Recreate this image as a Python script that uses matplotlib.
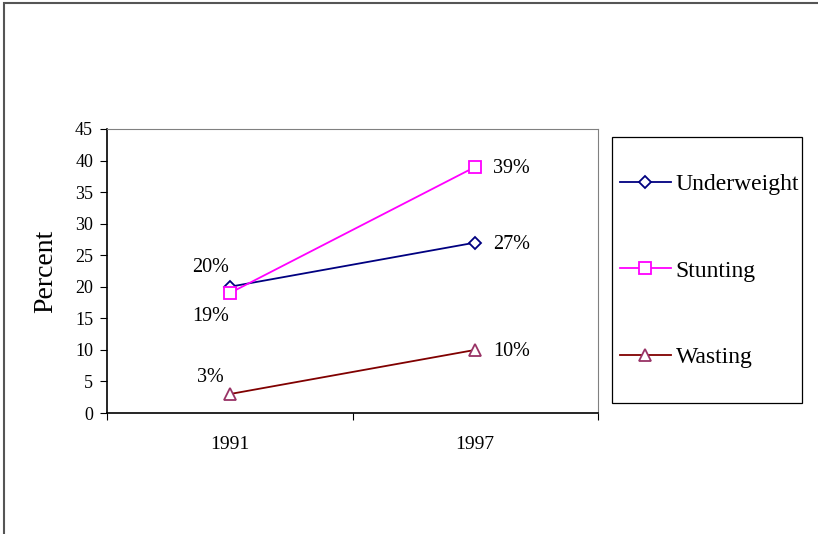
import matplotlib.pyplot as plt
from matplotlib.patches import Rectangle

years = ["1991", "1997"]
underweight = [20, 27]
stunting = [19, 39]
wasting = [3, 10]

plt.rcParams["font.family"] = ["Liberation Serif", "DejaVu Serif"]

fig = plt.figure(figsize=(8.18, 5.34), dpi=100)
ax = fig.add_axes([107 / 818, 1 - 413 / 534, 491 / 818, 284 / 534])

x = list(range(len(years)))
ax.plot(x, underweight, color="#000080", lw=1.3, marker="D", ms=6.5,
        mfc="white", mec="#000080", mew=1.3, label="Underweight")
ax.plot(x, stunting, color="#FF00FF", lw=1.3, marker="s", ms=8,
        mfc="white", mec="#FF00FF", mew=1.3, label="Stunting")
ax.plot(x, wasting, color="#800000", lw=1.3, marker="^", ms=8,
        mfc="white", mec="#993366", mew=1.3, label="Wasting")

# value labels
lab = dict(fontsize=14.5, textcoords="offset points", va="center")
ax.annotate(f"{underweight[0]}%", (x[0], underweight[0]), xytext=(-14, 14), ha="center", **lab)
ax.annotate(f"{stunting[0]}%", (x[0], stunting[0]), xytext=(-14, -16.5), ha="center", **lab)
ax.annotate(f"{wasting[0]}%", (x[0], wasting[0]), xytext=(-14, 12), ha="center", **lab)
for s in (underweight, stunting, wasting):
    ax.annotate(f"{s[1]}%", (x[1], s[1]), xytext=(13, -1.5), ha="left", **lab)

ax.set_xlim(-0.5, 1.5)
ax.set_ylim(0, 45)
ax.set_yticks(range(0, 46, 5))
ax.set_xticks([-0.5, 0.5, 1.5])
ax.set_xticklabels([])
ax.set_xticks(x, minor=True)
ax.set_xticklabels(years, minor=True)
ax.tick_params(axis="x", which="minor", length=0, pad=16.5, labelsize=14)
ax.tick_params(axis="x", which="major", length=5, direction="out", width=0.8)
ax.tick_params(axis="y", length=5, direction="out", width=0.8, labelsize=13, pad=5)
ax.set_ylabel("Percent", fontsize=20, labelpad=12)

ax.spines["top"].set_color("#808080")
ax.spines["right"].set_color("#808080")
ax.spines["left"].set_linewidth(1.2)
ax.spines["bottom"].set_linewidth(1.2)

# legend entries, with the box drawn separately
leg = ax.legend(loc="center left", bbox_to_anchor=(620 / 818, 1 - 271 / 534),
                bbox_transform=fig.transFigure, fontsize=17, frameon=False,
                labelspacing=2.75, borderpad=0, handlelength=2.15,
                handletextpad=0.2, borderaxespad=0)
fig.patches.append(Rectangle((612 / 818, 1 - 403 / 534), 190 / 818, 266 / 534,
                             transform=fig.transFigure, fill=False,
                             edgecolor="black", lw=0.9))

# outer chart frame
fig.patches.append(Rectangle((4 / 818, -0.5), 2, 1.5 - 3 / 534, transform=fig.transFigure,
                             fill=False, edgecolor="#555555", lw=1.5))

fig.savefig("out.png", dpi=100)
